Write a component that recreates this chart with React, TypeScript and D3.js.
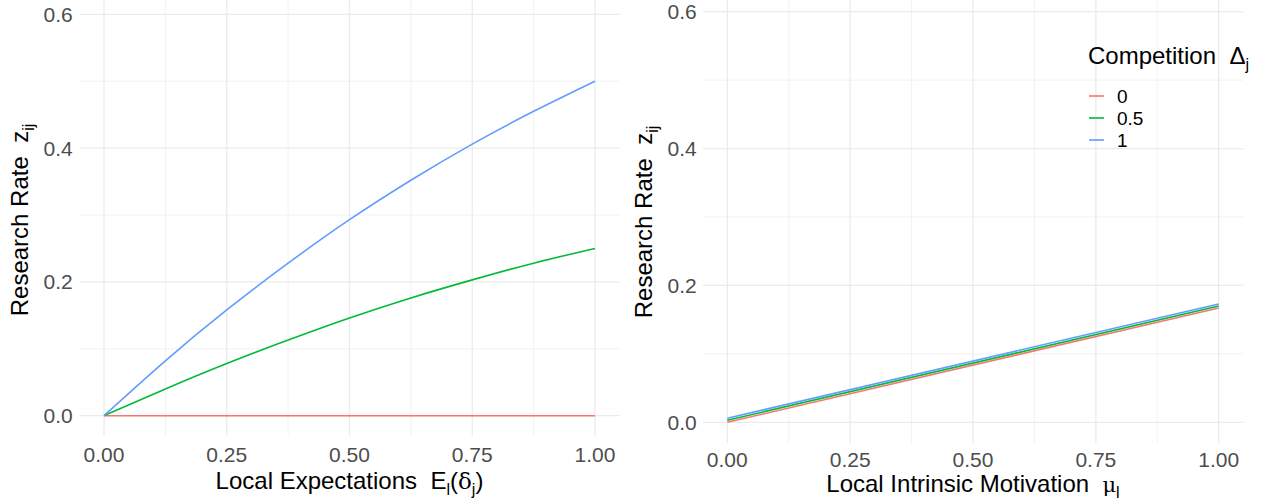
import React, { useEffect, useRef } from "react"
import * as d3 from "d3"

// values
const expectX = [0, 0.125, 0.25, 0.375, 0.5, 0.625, 0.75, 0.875, 1]
const expectComp0 = [0, 0, 0, 0, 0, 0, 0, 0, 0]
const expectComp05 = [0, 0.04, 0.078, 0.113, 0.146, 0.176, 0.203, 0.228, 0.25]
const expectComp1 = [0, 0.082, 0.158, 0.228, 0.293, 0.352, 0.406, 0.455, 0.5]

const motivX = [0, 1]
const motivComp0 = [0, 0.167]
const motivComp05 = [0.003, 0.17]
const motivComp1 = [0.006, 0.173]

const competitionLevels = ["0", "0.5", "1"]
const levelColors = ["#F8766D", "#00BA38", "#619CFF"]

const xTicks = [0, 0.25, 0.5, 0.75, 1]
const xMinor = [0.125, 0.375, 0.625, 0.875]
const yTicks = [0, 0.2, 0.4, 0.6]
const yMinor = [0.1, 0.3, 0.5]

const FONT = "'Liberation Sans', Arial, sans-serif"

const App = () => {
  const ref = useRef(null)

  useEffect(() => {
    const svg = d3.select(ref.current)
    svg.selectAll("*").remove()

    const drawPanel = (opts) => {
      const { xr, yr, xs, series, tickBase, yLabX, titleBase, yTitleX, xTitle } = opts
      const x = d3.scaleLinear().domain([0, 1]).range(xr)
      const y = d3.scaleLinear().domain([0, 0.6]).range(yr)
      const left = x(-0.05), right = x(1.05)
      const top = y(0.63), bottom = y(-0.03)

      const g = svg.append("g")

      // grid
      g.selectAll(".ymin").data(yMinor).enter().append("line")
        .attr("x1", left).attr("x2", right).attr("y1", d => y(d)).attr("y2", d => y(d))
        .attr("stroke", "#EBEBEB").attr("stroke-width", 0.7)
      g.selectAll(".xmin").data(xMinor).enter().append("line")
        .attr("y1", top).attr("y2", bottom).attr("x1", d => x(d)).attr("x2", d => x(d))
        .attr("stroke", "#EBEBEB").attr("stroke-width", 0.7)
      g.selectAll(".ymaj").data(yTicks).enter().append("line")
        .attr("x1", left).attr("x2", right).attr("y1", d => y(d)).attr("y2", d => y(d))
        .attr("stroke", "#EBEBEB").attr("stroke-width", 1.3)
      g.selectAll(".xmaj").data(xTicks).enter().append("line")
        .attr("y1", top).attr("y2", bottom).attr("x1", d => x(d)).attr("x2", d => x(d))
        .attr("stroke", "#EBEBEB").attr("stroke-width", 1.3)

      // lines
      const line = d3.line().x((d) => x(d[0])).y((d) => y(d[1])).curve(d3.curveNatural)
      series.forEach((vals, i) => {
        g.append("path")
          .datum(xs.map((xv, k) => [xv, vals[k]]))
          .attr("d", line)
          .attr("fill", "none")
          .attr("stroke", levelColors[i])
          .attr("stroke-width", 1.6)
      })

      // tick labels
      g.selectAll(".xl").data(xTicks).enter().append("text")
        .attr("x", d => x(d)).attr("y", tickBase)
        .attr("text-anchor", "middle").attr("fill", "#4D4D4D")
        .style("font-family", FONT).style("font-size", "21px")
        .text(d => d3.format(".2f")(d))
      g.selectAll(".yl").data(yTicks).enter().append("text")
        .attr("x", yLabX).attr("y", d => y(d)).attr("dy", "0.36em")
        .attr("text-anchor", "end").attr("fill", "#4D4D4D")
        .style("font-family", FONT).style("font-size", "21px")
        .text(d => d3.format(".1f")(d))

      // x title
      const xt = g.append("text")
        .attr("x", (left + right) / 2).attr("y", titleBase)
        .attr("text-anchor", "middle").attr("fill", "black")
        .style("font-family", FONT).style("font-size", "24px")
      xTitle(xt)

      // y title
      const yt = g.append("text")
        .attr("transform", `translate(${yTitleX},${(top + bottom) / 2 + 5}) rotate(-90)`)
        .attr("text-anchor", "middle").attr("fill", "black")
        .style("font-family", FONT).style("font-size", "24px")
      yt.append("tspan").text("Research Rate\u00A0\u00A0z")
      yt.append("tspan").attr("dy", 6).style("font-size", "16px").text("ij")
    }

    drawPanel({
      xr: [104, 595], yr: [415.7, 14.3],
      xs: expectX,
      series: [expectComp0, expectComp05, expectComp1],
      tickBase: 461.5, yLabX: 72.7, titleBase: 489, yTitleX: 28,
      xTitle: (t) => {
        t.append("tspan").text("Local Expectations\u00A0\u00A0E")
        t.append("tspan").attr("dy", 6).style("font-size", "16px").text("l")
        t.append("tspan").attr("dy", -6).text("(")
        t.append("tspan").style("font-family", "'DejaVu Serif', serif").style("font-size", "23px").text("δ")
        t.append("tspan").attr("dy", 6).style("font-size", "16px").text("j")
        t.append("tspan").attr("dy", -6).text(")")
      }
    })

    drawPanel({
      xr: [727.3, 1218.7], yr: [422.3, 11.7],
      xs: motivX,
      series: [motivComp0, motivComp05, motivComp1],
      tickBase: 466.5, yLabX: 696.7, titleBase: 491.5, yTitleX: 652,
      xTitle: (t) => {
        t.append("tspan").text("Local Intrinsic Motivation\u00A0\u00A0")
        t.append("tspan").style("font-family", "'DejaVu Serif', serif").style("font-size", "21px").text("μ")
        t.append("tspan").attr("dy", 6).style("font-size", "16px").text("l")
      }
    })

    // legend
    const lg = svg.append("g")
    const lt = lg.append("text").attr("x", 1088).attr("y", 64)
      .style("font-family", FONT).style("font-size", "24px").attr("fill", "black")
    lt.append("tspan").text("Competition\u00A0\u00A0")
    lt.append("tspan").text("Δ")
    lt.append("tspan").attr("dy", 6).style("font-size", "16px").text("j")

    competitionLevels.forEach((lab, i) => {
      const cy = 96 + i * 22
      lg.append("line").attr("x1", 1089).attr("x2", 1104).attr("y1", cy).attr("y2", cy)
        .attr("stroke", levelColors[i]).attr("stroke-width", 1.6)
      lg.append("text").attr("x", 1117).attr("y", cy).attr("dy", "0.36em")
        .style("font-family", FONT).style("font-size", "19px").attr("fill", "black")
        .text(lab)
    })
  }, [])

  return (
    <div>
      <svg ref={ref} width={1266} height={503} style={{ position: "absolute", left: 0, top: 0, background: "white" }} />
    </div>
  )
}

export default App
